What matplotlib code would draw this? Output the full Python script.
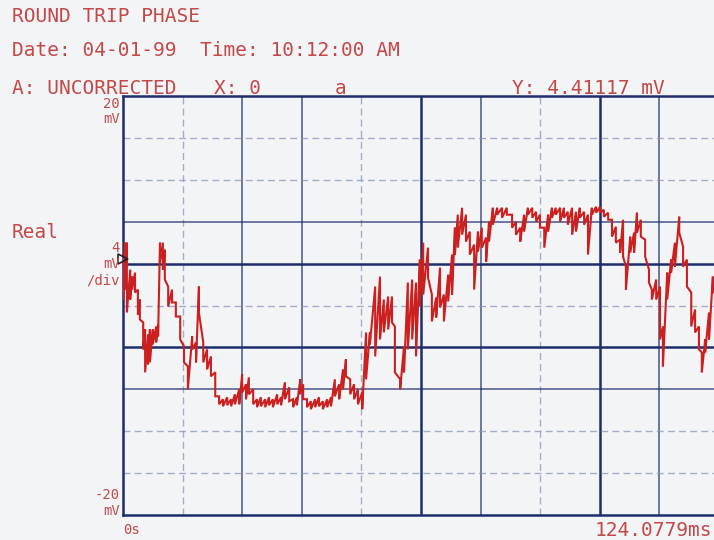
import matplotlib
matplotlib.use("Agg")
import matplotlib.pyplot as plt
import numpy as np

# sweep setup
x_span_ms = 124.0779
y_top_mv = 20
y_bot_mv = -20
n_div = 10
cursor_x = 0
cursor_y_mv = 4.41117

# time of each sample (ms) with the upper / lower excursion of the trace (mV)
t_ms = [
    0.0, 0.4, 0.8, 1.5, 1.9, 2.5, 3.1, 3.5, 4.2, 4.6, 5.2, 5.6, 6.2, 6.9, 7.3,
    7.7, 8.3, 8.7, 9.4, 10.2, 11.0, 11.9, 12.7, 13.5, 14.4, 15.2, 15.8, 16.7,
    17.5, 18.3, 19.2, 20.0, 20.8, 21.7, 22.5, 23.3, 24.2, 24.8, 25.6, 26.2,
    27.1, 27.9, 28.7, 29.6, 30.4, 31.2, 32.1, 32.9, 33.7, 34.6, 35.4, 36.2,
    36.9, 37.5, 38.3, 39.1, 40.0, 40.8, 41.6, 42.5, 43.3, 44.1, 45.0, 45.8,
    46.4, 47.3, 48.1, 48.9, 49.8, 50.6, 51.4, 52.5, 53.5, 54.3, 55.2, 56.0,
    56.6, 57.7, 58.5, 59.3, 60.2, 61.0, 61.8, 62.5, 63.5, 64.3, 65.2, 66.0,
    66.8, 67.7, 68.5, 69.1, 69.7, 70.6, 71.4, 72.2, 73.1, 73.9, 74.7, 75.6,
    76.2, 77.0, 77.9, 78.9, 79.9, 81.0, 81.8, 82.7, 83.5, 84.3, 85.2, 86.0,
    86.8, 87.7, 88.5, 89.3, 90.1, 91.0, 91.8, 92.6, 93.5, 94.3, 95.1, 96.0,
    96.8, 97.6, 98.5, 99.3, 100.1, 101.0, 101.8, 102.6, 103.5, 104.1, 104.7,
    105.6, 106.4, 107.0, 107.8, 108.7, 109.5, 110.1, 111.0, 111.8, 112.4,
    113.3, 114.1, 114.9, 115.8, 116.6, 117.4, 118.3, 119.1, 119.9, 120.5,
    121.2, 122.0, 122.8,
]
hi_mv = [
    4.57, 6.0, 6.0, 3.43, 2.76, 3.14, 1.52, 0.57, -1.62, -2.29, -2.76, -2.29,
    -2.29, -2.0, -1.81, 6.0, 6.0, 5.33, 1.81, 1.52, 0.29, -1.05, -3.9, -5.81,
    -2.95, -3.52, 1.81, -3.52, -4.19, -4.86, -6.38, -8.67, -8.95, -8.76,
    -8.95, -8.48, -8.0, -6.57, -7.52, -6.86, -8.0, -8.95, -8.76, -8.95,
    -8.76, -8.95, -8.48, -8.76, -7.33, -7.81, -8.95, -8.76, -7.05, -7.52,
    -8.95, -9.14, -8.95, -8.76, -9.14, -8.95, -8.76, -7.05, -7.52, -6.1,
    -5.14, -7.05, -7.52, -8.0, -8.29, -2.57, -2.57, 1.81, 2.76, 0.57, 0.86,
    0.86, -2.0, -7.05, -3.9, 2.19, 2.48, 2.19, 4.38, 6.0, 5.52, 1.05, 0.76,
    3.62, 1.05, 2.95, 4.86, 7.43, 8.67, 9.33, 8.67, 7.05, 5.81, 7.05, 7.43,
    6.48, 8.0, 9.33, 9.33, 9.33, 9.33, 8.67, 8.0, 7.43, 8.67, 9.33, 9.33,
    8.95, 8.67, 7.43, 8.67, 9.33, 9.33, 9.33, 9.33, 8.95, 9.33, 8.95, 9.33,
    8.95, 8.67, 9.33, 9.43, 9.43, 9.14, 8.86, 8.19, 7.52, 6.29, 8.19, 3.71,
    6.57, 6.95, 8.86, 8.19, 6.29, 3.43, 1.52, 2.48, 1.81, -2.0, 3.14, 4.38,
    6.0, 8.48, 5.62, 4.38, 1.24, -0.38, -2.0, -4.48, -3.24, -0.67, 2.76,
]
lo_mv = [
    0.57, 1.52, -0.67, 0.57, 1.52, 1.24, -0.86, -1.33, -4.19, -6.38, -5.62,
    -5.43, -3.71, -3.52, -2.95, 4.1, 3.43, 2.48, -0.1, 0.29, -1.05, -3.24,
    -5.43, -8.0, -4.19, -5.43, -0.67, -5.43, -6.1, -6.76, -8.67, -9.43,
    -9.62, -9.52, -9.62, -9.43, -9.43, -8.29, -8.95, -8.48, -9.43, -9.71,
    -9.62, -9.71, -9.52, -9.71, -9.43, -9.52, -8.95, -9.14, -9.71, -9.52,
    -8.48, -8.95, -9.71, -9.9, -9.71, -9.62, -9.9, -9.71, -9.62, -8.67,
    -8.95, -8.0, -6.76, -8.48, -8.95, -9.43, -9.9, -7.05, -3.71, -4.86,
    -3.24, -2.57, -2.29, -1.62, -6.38, -8.0, -6.38, -4.19, -3.24, -4.86,
    -0.1, 1.05, 2.67, -1.52, -1.14, -0.19, -1.52, 0.38, 1.05, 4.86, 5.52,
    6.76, 6.1, 4.86, 1.52, 5.14, 5.52, 4.19, 6.1, 7.71, 8.67, 8.38, 8.67,
    7.43, 6.76, 6.1, 7.05, 8.67, 8.38, 8.0, 7.43, 5.52, 7.05, 8.38, 8.67,
    8.0, 8.38, 7.71, 6.76, 7.05, 8.38, 7.71, 4.86, 8.67, 8.86, 8.86, 8.48,
    8.19, 6.57, 6.0, 5.05, 4.67, 1.52, 5.05, 5.05, 6.95, 6.57, 4.67, 2.19,
    0.57, 0.57, -3.24, -5.81, 0.57, 3.14, 3.71, 6.95, 3.71, 1.81, -2.0,
    -2.57, -4.19, -6.38, -4.48, -3.24, 1.24,
]

paper = "#f3f4f6"
ink = "#c44848"
navy = "#1d2d6c"
pale = "#8797ba"

fig = plt.figure(figsize=(7.14, 5.4), dpi=100, facecolor=paper)
# plot box runs off the right edge of the scan, like the original
ax = fig.add_axes([0.1723, 0.0463, 0.8347, 0.7759])
ax.set_facecolor(paper)
ax.set_xlim(0, x_span_ms)
ax.set_ylim(y_bot_mv, y_top_mv)

xdiv = x_span_ms / n_div
ydiv = (y_top_mv - y_bot_mv) / n_div

# grid: the printout mixes solid and faint dashed rules
v_styles = {1: "d", 2: "s", 3: "s", 4: "d", 5: "S", 6: "s", 7: "d", 8: "S", 9: "s"}
h_styles = {1: "d", 2: "d", 3: "s", 4: "S", 5: "d", 6: "S", 7: "s", 8: "d", 9: "d"}


def rule(style):
    if style == "S":
        return dict(color=navy, lw=1.8, ls="-")
    if style == "s":
        return dict(color=navy, lw=1.1, ls="-", alpha=0.8)
    return dict(color=pale, lw=1.0, ls=(0, (5, 3)), alpha=0.75)


for k, st in v_styles.items():
    ax.axvline(k * xdiv, zorder=1, **rule(st))
for k, st in h_styles.items():
    ax.axhline(y_top_mv - k * ydiv, zorder=1, **rule(st))

for side in ["left", "bottom", "top"]:
    ax.spines[side].set_color(navy)
    ax.spines[side].set_linewidth(1.8)
ax.spines["right"].set_visible(False)
ax.set_xticks([])
ax.set_yticks([])

# trace: drop from upper to lower excursion at each sample
t = np.repeat(t_ms, 2)
v = np.column_stack([hi_mv, lo_mv]).ravel()
ax.plot(t, v, color="#cc1f1f", lw=1.5, zorder=3, solid_joinstyle="miter")

# cursor mark
ax.plot([cursor_x], [cursor_y_mv], marker=">", ms=7, mfc="none",
        mec="#222222", mew=1.2, zorder=4, clip_on=False)

mono = "DejaVu Sans Mono"
big = dict(family=mono, color=ink, fontsize=14, va="center")
small = dict(family=mono, color=ink, fontsize=10, va="center")

fig.text(12 / 714, 1 - 16 / 540, "ROUND TRIP PHASE", **big)
fig.text(12 / 714, 1 - 50 / 540, "Date: 04-01-99  Time: 10:12:00 AM", **big)
fig.text(12 / 714, 1 - 88 / 540, "A: UNCORRECTED", **big)
fig.text(214 / 714, 1 - 88 / 540, "X: 0", **big)
fig.text(335 / 714, 1 - 88 / 540, "a", **big)
fig.text(512 / 714, 1 - 88 / 540, "Y: 4.41117 mV", **big)
fig.text(12 / 714, 1 - 233 / 540, "Real", **big)

rx = 120 / 714
fig.text(rx, 1 - 104 / 540, "20", ha="right", **small)
fig.text(rx, 1 - 119 / 540, "mV", ha="right", **small)
fig.text(rx, 1 - 248 / 540, "4", ha="right", **small)
fig.text(rx, 1 - 264 / 540, "mV", ha="right", **small)
fig.text(rx, 1 - 280 / 540, "/div", ha="right", **small)
fig.text(rx, 1 - 495 / 540, "-20", ha="right", **small)
fig.text(rx, 1 - 511 / 540, "mV", ha="right", **small)
fig.text(123 / 714, 1 - 530 / 540, "0s", ha="left", **small)
fig.text(712 / 714, 1 - 530 / 540, "124.0779ms", ha="right", **big)

fig.savefig("out.png", dpi=100, facecolor=paper)
